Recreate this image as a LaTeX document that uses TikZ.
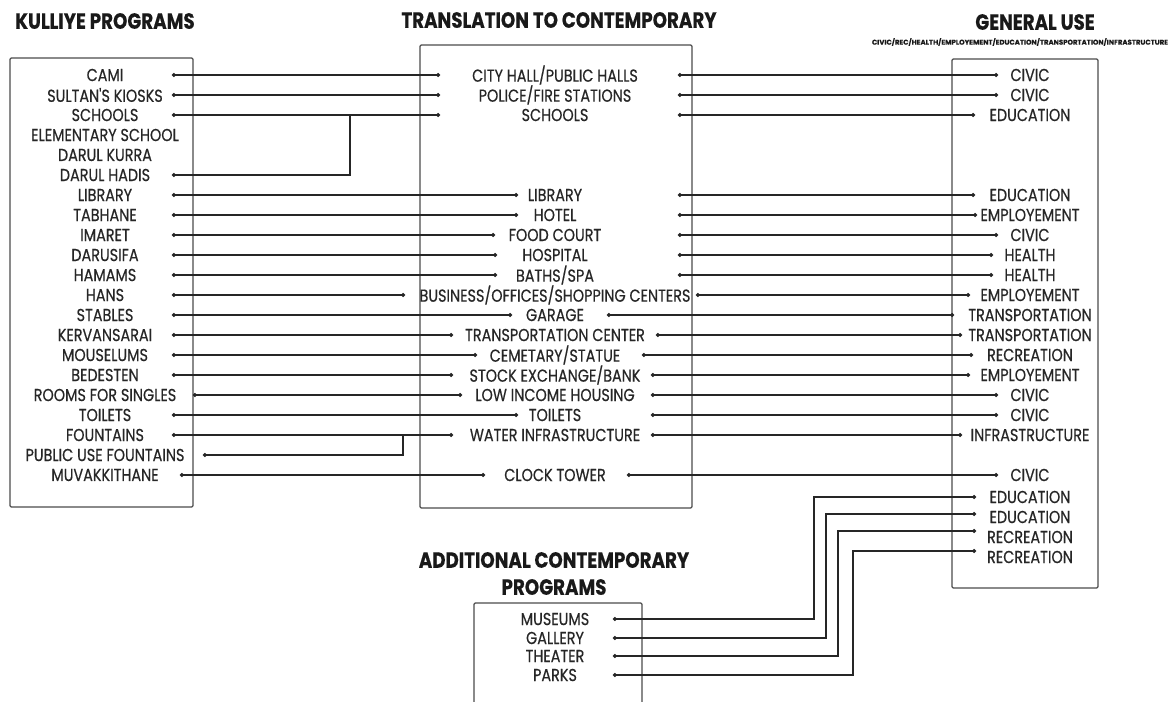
\documentclass[tikz,border=0pt]{standalone}
\usepackage{fontspec}
\setmainfont{Poppins}
\newfontfamily\lblfont{Poppins}[UprightFeatures={FakeBold=0.5}]
\newfontfamily\hdrfont{Poppins}[BoldFeatures={FakeBold=0.4}]
\usepackage{graphicx}
\usetikzlibrary{arrows.meta}
\newcommand{\sq}[1]{\scalebox{0.83}[1]{#1}}
\newcommand{\hq}[1]{\scalebox{0.83}[1]{#1}}
\tikzset{
  lbl/.style={font=\lblfont\fontsize{13}{13}\selectfont, inner sep=0pt, text=black!85, anchor=center},
  hdr/.style={font=\hdrfont\fontsize{16.5}{17}\selectfont\bfseries, inner sep=0pt, text=black!90},
  panel/.style={draw=black!70, line width=0.9pt, rounded corners=1pt},
  conn/.style={draw=black!85, line width=1.15pt, {Circle[length=2.8pt]}-{Circle[length=2.8pt]}},
  bracket/.style={draw=black!85, line width=1.15pt, {Circle[length=2.8pt]}-}
}
\begin{document}
\begin{tikzpicture}[x=0.75pt,y=-0.75pt]
\useasboundingbox (0,0) rectangle (1172,702);
\clip (0,0) rectangle (1172,702);
\fill[white] (0,0) rectangle (1172,702);

% headers
\node[hdr] (hK) at (105,21) {\hq{KULLIYE PROGRAMS}};
\node[hdr] (hT) at (559,20) {\hq{TRANSLATION TO CONTEMPORARY}};
\node[hdr] (hG) at (1035,22) {\hq{GENERAL USE}};
\node[inner sep=0pt, text=black!90] (hGs) at (1020,42) {\resizebox{222pt}{!}{\hdrfont\bfseries CIVIC/REC/HEALTH/EMPLOYEMENT/EDUCATION/TRANSPORTATION/INFRASTRUCTURE}};
\node[hdr] (hA1) at (554,560) {\hq{ADDITIONAL CONTEMPORARY}};
\node[hdr] (hA2) at (554,587) {\hq{PROGRAMS}};

% panels
\draw[panel] (10,58) rectangle (193,507);
\draw[panel] (420,45) rectangle (692,508);
\draw[panel] (952,59) rectangle (1098,588);
\draw[panel] (474,603) rectangle (642,720);

% left column
\foreach \n/\y/\t in {L1/75/CAMI, L2/95/SULTAN'S KIOSKS, L3/115/SCHOOLS, L4/135/ELEMENTARY SCHOOL,
  L5/155/DARUL KURRA, L6/175/DARUL HADIS, L7/195/LIBRARY, L8/215/TABHANE, L9/235/IMARET,
  L10/255/DARUSIFA, L11/275/HAMAMS, L12/295/HANS, L13/315/STABLES, L14/335/KERVANSARAI,
  L15/355/MOUSELUMS, L16/375/BEDESTEN, L17/395/ROOMS FOR SINGLES, L18/415/TOILETS,
  L19/435/FOUNTAINS, L20/455/PUBLIC USE FOUNTAINS, L21/475/MUVAKKITHANE}
  {\node[lbl] (\n) at (105,\y) {\sq{\t}};}

% middle column
\foreach \n/\y/\t in {M1/75/{CITY HALL/PUBLIC HALLS}, M2/95/{POLICE/FIRE STATIONS}, M3/115/SCHOOLS,
  M7/195/LIBRARY, M8/215/HOTEL, M9/235/FOOD COURT, M10/255/HOSPITAL, M11/275/{BATHS/SPA},
  M12/295/{BUSINESS/OFFICES/SHOPPING CENTERS}, M13/315/GARAGE, M14/335/TRANSPORTATION CENTER,
  M15/355/{CEMETARY/STATUE}, M16/375/{STOCK EXCHANGE/BANK}, M17/395/LOW INCOME HOUSING,
  M18/415/TOILETS, M19/435/WATER INFRASTRUCTURE, M21/475/CLOCK TOWER}
  {\node[lbl] (\n) at (555,\y) {\sq{\t}};}

% right column
\foreach \n/\y/\t in {R1/75/CIVIC, R2/95/CIVIC, R3/115/EDUCATION, R7/195/EDUCATION,
  R8/215/EMPLOYEMENT, R9/235/CIVIC, R10/255/HEALTH, R11/275/HEALTH, R12/295/EMPLOYEMENT,
  R13/315/TRANSPORTATION, R14/335/TRANSPORTATION, R15/355/RECREATION, R16/375/EMPLOYEMENT,
  R17/395/CIVIC, R18/415/CIVIC, R19/435/INFRASTRUCTURE, R21/475/CIVIC,
  R22/497/EDUCATION, R23/517/EDUCATION, R24/537/RECREATION, R25/557/RECREATION}
  {\node[lbl] (\n) at (1030,\y) {\sq{\t}};}

% additional programs
\foreach \n/\y/\t in {A1/619/MUSEUMS, A2/638/GALLERY, A3/656/THEATER, A4/675/PARKS}
  {\node[lbl] (\n) at (555,\y) {\sq{\t}};}

% connectors: left -> middle
\foreach \n/\sx/\y/\ex in {1/172/75/440, 2/172/95/440, 3/172/115/440, 7/172/195/518,
  8/172/215/518, 9/172/235/495, 10/172/255/497, 11/172/275/497, 12/172/295/405,
  13/172/315/512, 14/172/335/453, 15/172/355/477, 16/172/375/453, 17/193/395/462,
  18/172/415/518, 19/172/435/453, 21/180/475/485}
  {\coordinate (ls\n) at (\sx,\y); \coordinate (le\n) at (\ex,\y);
   \draw[conn] (ls\n) -- (le\n);}

% brackets
\coordinate (ls6) at (172,175); \coordinate (lk6) at (350,175); \coordinate (lj6) at (350,115);
\draw[bracket] (ls6) -- (lk6) -- (lj6);
\coordinate (ls20) at (203,455); \coordinate (lk20) at (403,455); \coordinate (lj20) at (403,435);
\draw[bracket] (ls20) -- (lk20) -- (lj20);

% middle -> right
\foreach \n/\sx/\y/\ex in {1/678/75/998, 2/678/95/998, 3/678/115/975, 7/678/195/975,
  8/678/215/977, 9/678/235/998, 10/678/255/993, 11/678/275/993, 12/696/295/970,
  13/607/315/954, 14/656/335/962, 15/642/355/973, 16/651/375/970, 17/651/395/998,
  18/651/415/998, 19/651/435/962, 21/627/475/998}
  {\coordinate (rs\n) at (\sx,\y); \coordinate (re\n) at (\ex,\y);
   \draw[conn] (rs\n) -- (re\n);}

% additional -> general use
\foreach \n/\y/\vx/\ty in {1/619/814/497, 2/638/826/514, 3/656/838/531, 4/675/853/551}
  {\coordinate (as\n) at (613,\y); \coordinate (ak\n) at (\vx,\y);
   \coordinate (aj\n) at (\vx,\ty); \coordinate (ae\n) at (976,\ty);
   \draw[conn] (as\n) -- (ak\n) -- (aj\n) -- (ae\n);}
\end{tikzpicture}
\end{document}
